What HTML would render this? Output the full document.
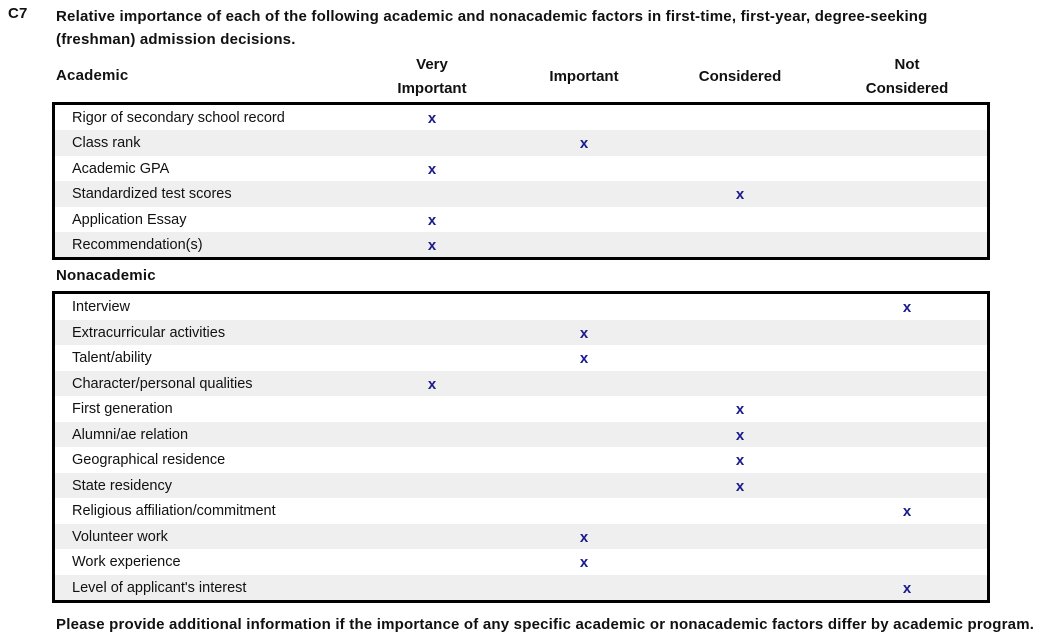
<!DOCTYPE html>
<html><head><meta charset="utf-8"><style>
body{margin:0;width:1051px;height:644px;background:#fff;font-family:"Liberation Sans",sans-serif;position:relative;overflow:hidden;color:#111}
.a{position:absolute;white-space:nowrap}
.b{font-weight:bold;font-size:15px;letter-spacing:0.2px}
.h{font-weight:bold;font-size:15px;text-align:center;width:160px;line-height:24px}
.box{position:absolute;left:52px;width:932px;border:3px solid #000}
.r{height:25.4px;position:relative;font-size:14.5px}
.box2 .r{height:25.5px}
.r:nth-child(even){background:#efefef}
.r span.l{position:absolute;left:17px;top:5px}
.r span.x{position:absolute;top:5px;color:#1a1a8c;font-weight:bold;font-size:15px;width:20px;text-align:center}
</style></head><body>
<div class="a b" style="left:8px;top:5px">C7</div>
<div class="a b" style="left:56px;top:5px;line-height:23px">Relative importance of each of the following academic and nonacademic factors in first-time, first-year, degree-seeking<br>(freshman) admission decisions.</div>
<div class="a b" style="left:56px;top:67px">Academic</div>
<div class="a h" style="left:352px;top:53px">Very<br>Important</div>
<div class="a h" style="left:504px;top:65px">Important</div>
<div class="a h" style="left:660px;top:65px">Considered</div>
<div class="a h" style="left:827px;top:53px">Not<br>Considered</div>
<div class="box" style="top:102px">
<div class="r"><span class="l">Rigor of secondary school record</span><span class="x" style="left:367px">x</span></div>
<div class="r"><span class="l">Class rank</span><span class="x" style="left:519px">x</span></div>
<div class="r"><span class="l">Academic GPA</span><span class="x" style="left:367px">x</span></div>
<div class="r"><span class="l">Standardized test scores</span><span class="x" style="left:675px">x</span></div>
<div class="r"><span class="l">Application Essay</span><span class="x" style="left:367px">x</span></div>
<div class="r"><span class="l">Recommendation(s)</span><span class="x" style="left:367px">x</span></div>
</div>
<div class="a b" style="left:56px;top:267px">Nonacademic</div>
<div class="box box2" style="top:291px">
<div class="r"><span class="l">Interview</span><span class="x" style="left:842px">x</span></div>
<div class="r"><span class="l">Extracurricular activities</span><span class="x" style="left:519px">x</span></div>
<div class="r"><span class="l">Talent/ability</span><span class="x" style="left:519px">x</span></div>
<div class="r"><span class="l">Character/personal qualities</span><span class="x" style="left:367px">x</span></div>
<div class="r"><span class="l">First generation</span><span class="x" style="left:675px">x</span></div>
<div class="r"><span class="l">Alumni/ae relation</span><span class="x" style="left:675px">x</span></div>
<div class="r"><span class="l">Geographical residence</span><span class="x" style="left:675px">x</span></div>
<div class="r"><span class="l">State residency</span><span class="x" style="left:675px">x</span></div>
<div class="r"><span class="l">Religious affiliation/commitment</span><span class="x" style="left:842px">x</span></div>
<div class="r"><span class="l">Volunteer work</span><span class="x" style="left:519px">x</span></div>
<div class="r"><span class="l">Work experience</span><span class="x" style="left:519px">x</span></div>
<div class="r"><span class="l">Level of applicant's interest</span><span class="x" style="left:842px">x</span></div>
</div>
<div class="a b" style="left:56px;top:616px">Please provide additional information if the importance of any specific academic or nonacademic factors differ by academic program.</div>
</body></html>
